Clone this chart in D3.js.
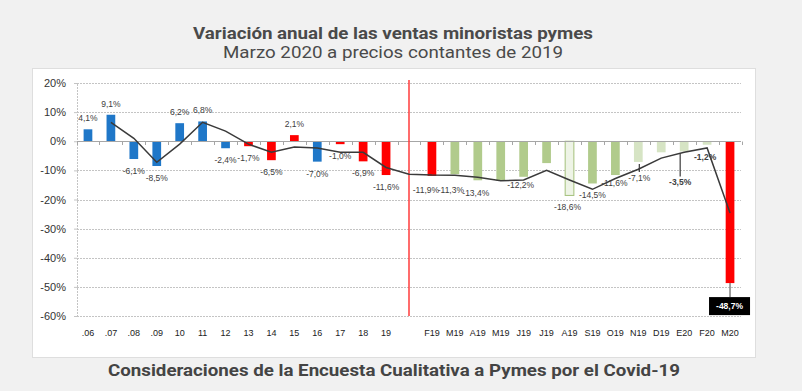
<!DOCTYPE html>
<html>
<head>
<meta charset="utf-8">
<script src="https://cdn.jsdelivr.net/npm/d3@7"></script>
<style>
  html, body { margin: 0; padding: 0; background: #f1f1f1; }
  svg { display: block; }
</style>
</head>
<body>
<svg id="chart" width="802" height="391"></svg>
<script>
// ---------- DATA ----------
const categories = [".06",".07",".08",".09","10","11","12","13","14","15","16","17","18","19","",
  "F19","M19","A19","M19","J19","J19","A19","S19","O19","N19","D19","E20","F20","M20"];
const barValues = [4.1, 9.1, -6.1, -8.5, 6.2, 6.8, -2.4, -1.7, -6.5, 2.1, -7.0, -1.0, -6.9, -11.6, null,
  -11.9, -11.3, -13.4, -13.6, -12.2, -7.5, -18.6, -14.5, -11.6, -7.1, -3.8, -3.5, -1.2, -48.7];
const barGroups = ["b","b","b","b","b","b","b","r","r","r","b","r","r","r",null,
  "r","g","g","g","g","g","o","g","g","p","p","p","p","r"];
const barLabels = ["4,1%","9,1%","-6,1%","-8,5%","6,2%","6,8%","-2,4%","-1,7%","-6,5%","2,1%","-7,0%","-1,0%","-6,9%","-11,6%",null,
  "-11,9%","-11,3%","-13,4%",null,"-12,2%",null,"-18,6%","-14,5%","-11,6%","-7,1%",null,"-3,5%","-1,2%","-48,7%"];
const lineValues = [null, 6.5, 1.0, -7.2, -1.0, 6.5, 3.5, -1.0, -3.8, -2.0, -2.3, -3.8, -3.8, -9.0, -11.3,
  -11.6, -11.7, -12.4, -13.6, -13.3, -10.0, -13.3, -16.5, -12.8, -9.6, -5.8, -3.8, -2.3, -24.6];
const yTicks = [20, 10, 0, -10, -20, -30, -40, -50, -60];
const title = "Variación anual de las ventas minoristas pymes";
const subtitle = "Marzo 2020 a precios contantes de 2019";
const caption = "Consideraciones de la Encuesta Cualitativa a Pymes por el Covid-19";

// ---------- STYLE / LAYOUT ----------
const colors = { b: "#1f77c8", r: "#ff0000", g: "#b1cb8c", p: "#d6e4c4", o: "#eef4e6" };
const svg = d3.select("#chart");
const font = "'Liberation Sans', Arial, sans-serif";

// label nudges (dx, dy) and styles keyed by category index
const nudge = {15: [-6, 2], 16: [-4, 4], 17: [-2, 1], 19: [-3, -4], 21: [-2, 0], 23: [-1, -4], 24: [1, 4], 26: [-4, 19], 27: [-2, 0]};
const leaders = new Set([24, 26]);
const boldLabels = new Set([26, 27]);

// background card
svg.append("rect").attr("x", 32.5).attr("y", 68.5).attr("width", 723).attr("height", 289)
  .attr("fill", "#ffffff").attr("stroke", "#dedede");

// titles
svg.append("text").attr("x", 393).attr("y", 39).attr("text-anchor", "middle")
  .attr("font-family", "Roboto, sans-serif").attr("font-weight", "bold").attr("font-size", 16)
  .attr("textLength", 400).attr("lengthAdjust", "spacingAndGlyphs")
  .attr("fill", "#4a4a4a").text(title);
svg.append("text").attr("x", 393).attr("y", 58).attr("text-anchor", "middle")
  .attr("font-family", "Roboto, sans-serif").attr("font-size", 16)
  .attr("textLength", 340).attr("lengthAdjust", "spacingAndGlyphs")
  .attr("fill", "#4a4a4a").text(subtitle);
svg.append("text").attr("x", 394).attr("y", 376).attr("text-anchor", "middle")
  .attr("font-family", "Roboto, sans-serif").attr("font-weight", "bold").attr("font-size", 17)
  .attr("textLength", 572).attr("lengthAdjust", "spacingAndGlyphs")
  .attr("fill", "#444444").text(caption);

// scales
const idx = d3.range(categories.length);
const x = d3.scaleBand().domain(idx).range([76.5, 741.5]).paddingInner(0.62).paddingOuter(0.31);
const y = d3.scaleLinear().domain([-60, 20]).range([316, 83]);
const cx = i => x(i) + x.bandwidth() / 2;

// gridlines
svg.append("g").selectAll("line").data(yTicks.filter(t => t !== 0)).join("line")
  .attr("x1", 77).attr("x2", 741).attr("y1", d => Math.round(y(d)) + 0.5).attr("y2", d => Math.round(y(d)) + 0.5)
  .attr("stroke", "#c4c4c4").attr("stroke-dasharray", "2,1");

// y axis
const yAxis = svg.append("g").attr("transform", "translate(77,0)")
  .call(d3.axisLeft(y).tickValues(yTicks).tickFormat(d => d + "%").tickSize(3).tickPadding(8));
yAxis.select(".domain").attr("stroke", "#c4c4c4").attr("stroke-dasharray", "2,1");
yAxis.selectAll(".tick line").attr("stroke", "#c4c4c4");
yAxis.selectAll("text").attr("font-family", font).attr("font-size", 11).attr("fill", "#333333");

// bars
svg.append("g").selectAll("rect").data(idx.filter(i => barValues[i] !== null)).join("rect")
  .attr("x", i => x(i)).attr("width", x.bandwidth())
  .attr("y", i => y(Math.max(0, barValues[i])))
  .attr("height", i => Math.abs(y(barValues[i]) - y(0)))
  .attr("fill", i => colors[barGroups[i]])
  .attr("stroke", i => barGroups[i] === "o" ? "#a3c07a" : "none");

// zero axis line and category ticks
svg.append("line").attr("x1", 77).attr("x2", 741).attr("y1", Math.round(y(0)) + 0.5).attr("y2", Math.round(y(0)) + 0.5)
  .attr("stroke", "#a6a6a6");
svg.append("g").selectAll("line").data(d3.range(categories.length + 1)).join("line")
  .attr("x1", i => Math.round(76.5 + i * x.step()) + 0.5)
  .attr("x2", i => Math.round(76.5 + i * x.step()) + 0.5)
  .attr("y1", Math.round(y(0)) + 0.5).attr("y2", Math.round(y(0)) + 4)
  .attr("stroke", "#a6a6a6");

// separator
svg.append("line").attr("x1", cx(14)).attr("x2", cx(14)).attr("y1", 80).attr("y2", y(-60))
  .attr("stroke", "#ff3b3b").attr("stroke-width", 1.5);

// line series
const line = d3.line().defined(i => lineValues[i] !== null).x(i => cx(i)).y(i => y(lineValues[i]));
svg.append("path").datum(idx).attr("d", line).attr("fill", "none")
  .attr("stroke", "#3a3a3a").attr("stroke-width", 1.5);

// x labels
svg.append("g").selectAll("text").data(idx).join("text")
  .attr("x", i => cx(i)).attr("y", 336).attr("text-anchor", "middle")
  .attr("font-family", font).attr("font-size", 9).attr("fill", "#222222")
  .text(i => categories[i]);

// bar labels
const last = categories.length - 1;
const lab = idx.filter(i => barLabels[i] !== null && i !== last);
const labelY = i => {
  const v = barValues[i];
  const base = v >= 0 ? y(v) - 8 : y(v) + 15;
  return base + (nudge[i] ? nudge[i][1] : 0);
};
svg.append("g").selectAll("line").data(lab.filter(i => leaders.has(i))).join("line")
  .attr("x1", i => cx(i) + (nudge[i] ? nudge[i][0] : 0)).attr("x2", i => cx(i) + (nudge[i] ? nudge[i][0] : 0))
  .attr("y1", i => y(barValues[i]) + 2).attr("y2", i => labelY(i) - 9)
  .attr("stroke", "#3a3a3a").attr("stroke-width", 1.2);
svg.append("g").selectAll("text").data(lab).join("text")
  .attr("x", i => cx(i) + (nudge[i] ? nudge[i][0] : 0))
  .attr("y", labelY)
  .attr("text-anchor", "middle").attr("font-family", font).attr("font-size", 8.5)
  .attr("font-weight", i => boldLabels.has(i) ? "bold" : "normal")
  .attr("fill", "#404040").text(i => barLabels[i]);

// highlighted last label
const lx = cx(last), ly = y(barValues[last]);
svg.append("line").attr("x1", lx).attr("x2", lx).attr("y1", ly).attr("y2", ly + 14)
  .attr("stroke", "#808080").attr("stroke-width", 1.5);
svg.append("rect").attr("x", lx - 21).attr("y", ly + 14).attr("width", 41).attr("height", 18).attr("fill", "#000000");
svg.append("text").attr("x", lx - 0.5).attr("y", ly + 26).attr("text-anchor", "middle")
  .attr("font-family", font).attr("font-size", 8.5).attr("font-weight", "bold").attr("fill", "#ffffff")
  .text(barLabels[last]);
</script>
</body>
</html>
